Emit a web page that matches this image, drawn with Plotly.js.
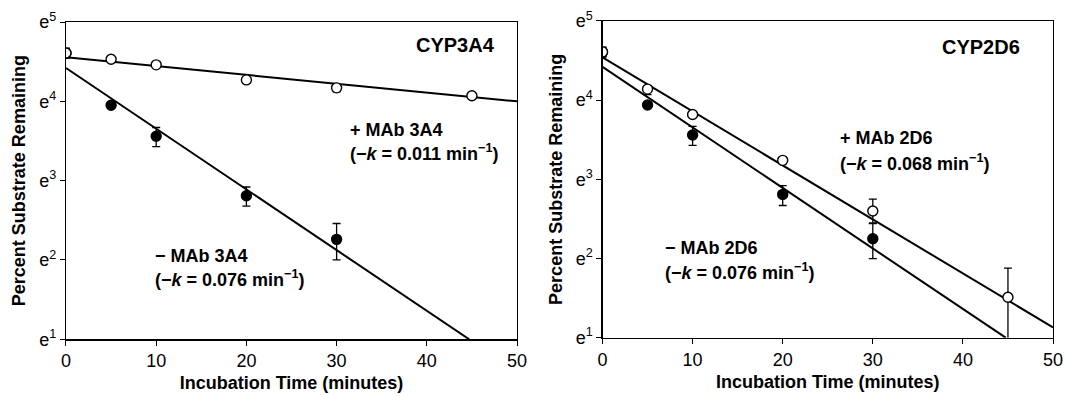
<!DOCTYPE html>
<html>
<head>
<meta charset="utf-8">
<script src="https://cdn.plot.ly/plotly-3.0.1.min.js"></script>
<style>
  html, body { margin: 0; padding: 0; background: #fff; }
  #chart { width: 1065px; height: 396px; }
</style>
</head>
<body>
<div id="chart"></div>
<script>
// ---- Data (y values are natural-log of percent substrate remaining) ----
// CYP3A4 panel
const t3A4Minus = [0, 5, 10, 20, 30];
const y3A4Minus = [4.605, 3.95, 3.56, 2.81, 2.26];
const e3A4MinusUp = [0.06, 0.03, 0.11, 0.11, 0.20];
const e3A4MinusDn = [0.06, 0.03, 0.13, 0.13, 0.26];

const t3A4Plus = [0, 5, 10, 20, 30, 45];
const y3A4Plus = [4.61, 4.53, 4.46, 4.27, 4.17, 4.07];
const e3A4PlusUp = [0.06, 0.02, 0.02, 0.02, 0.02, 0.02];
const e3A4PlusDn = [0.06, 0.02, 0.02, 0.03, 0.05, 0.02];

const fit3A4PlusX = [0, 50];
const fit3A4PlusY = [4.555, 4.0];
const fit3A4MinusX = [0, 44.7];
const fit3A4MinusY = [4.42, 1.0];

// CYP2D6 panel
const t2D6Minus = [0, 5, 10, 20, 30];
const y2D6Minus = [4.605, 3.94, 3.56, 2.81, 2.25];
const e2D6MinusUp = [0.06, 0.03, 0.11, 0.11, 0.20];
const e2D6MinusDn = [0.06, 0.03, 0.13, 0.14, 0.25];

const t2D6Plus = [0, 5, 10, 20, 30, 45];
const y2D6Plus = [4.61, 4.14, 3.82, 3.24, 2.60, 1.51];
const e2D6PlusUp = [0.06, 0.02, 0.02, 0.02, 0.15, 0.37];
const e2D6PlusDn = [0.06, 0.07, 0.02, 0.02, 0.16, 0.55];

const fit2D6PlusX = [0, 50];
const fit2D6PlusY = [4.54, 1.13];
const fit2D6MinusX = [0, 44.75];
const fit2D6MinusY = [4.42, 1.0];

// Tick labels
const yTickVals = [1, 2, 3, 4, 5];
const yTickText = ['e<sup>1</sup>', 'e<sup>2</sup>', 'e<sup>3</sup>', 'e<sup>4</sup>', 'e<sup>5</sup>'];
const xTickVals = [0, 10, 20, 30, 40, 50];

// ---- Helpers ----
const FONT = 'Liberation Sans, Arial, Helvetica, sans-serif';

function fitLine(x, y, xa, ya) {
  return { x: x, y: y, xaxis: xa, yaxis: ya, mode: 'lines', type: 'scatter',
    line: { color: '#000', width: 2 }, hoverinfo: 'skip', showlegend: false };
}
function points(x, y, up, dn, filled, xa, ya) {
  return { x: x, y: y, xaxis: xa, yaxis: ya, mode: 'markers', type: 'scatter',
    marker: { symbol: 'circle', size: 10, color: filled ? '#000' : '#fff',
      line: { color: '#000', width: 1.4 } },
    error_y: { type: 'data', symmetric: false, array: up, arrayminus: dn,
      color: '#000', thickness: 1.3, width: 4 },
    showlegend: false, cliponaxis: true };
}

const traces = [
  fitLine(fit3A4PlusX, fit3A4PlusY, 'x', 'y'),
  fitLine(fit3A4MinusX, fit3A4MinusY, 'x', 'y'),
  points(t3A4Minus, y3A4Minus, e3A4MinusUp, e3A4MinusDn, true, 'x', 'y'),
  points(t3A4Plus, y3A4Plus, e3A4PlusUp, e3A4PlusDn, false, 'x', 'y'),
  fitLine(fit2D6PlusX, fit2D6PlusY, 'x2', 'y2'),
  fitLine(fit2D6MinusX, fit2D6MinusY, 'x2', 'y2'),
  points(t2D6Minus, y2D6Minus, e2D6MinusUp, e2D6MinusDn, true, 'x2', 'y2'),
  points(t2D6Plus, y2D6Plus, e2D6PlusUp, e2D6PlusDn, false, 'x2', 'y2')
];

function xAxis(domain, anchor) {
  return { domain: domain, anchor: anchor, range: [0, 50], tickvals: xTickVals,
    ticks: 'outside', ticklen: 5, tickwidth: 1, tickcolor: '#000',
    showline: true, linecolor: '#000', linewidth: 1.2, mirror: true,
    showgrid: false, zeroline: false,
    tickfont: { family: FONT, size: 18, color: '#000' },
    title: { text: '<b>Incubation Time (minutes)</b>', standoff: 6,
      font: { family: FONT, size: 18, color: '#000' } } };
}
function yAxis(domain, anchor) {
  return { domain: domain, anchor: anchor, range: [1, 5], tickvals: yTickVals, ticktext: yTickText,
    ticks: 'outside', ticklen: 5, tickwidth: 1, tickcolor: '#000',
    showline: true, linecolor: '#000', linewidth: 1.2, mirror: true,
    showgrid: false, zeroline: false,
    tickfont: { family: FONT, size: 18, color: '#000' },
    title: { text: '<b>Percent Substrate Remaining</b>', standoff: 8,
      font: { family: FONT, size: 18, color: '#000' } } };
}

function label(text, x, y, xa, ya, anchor, size) {
  return { text: text, x: x, y: y, xref: xa, yref: ya, xanchor: anchor, yanchor: 'middle',
    showarrow: false, align: anchor, font: { family: FONT, size: size || 18, color: '#000' } };
}

const layout = {
  width: 1065, height: 396,
  margin: { l: 0, r: 0, t: 0, b: 0 },
  paper_bgcolor: '#fff', plot_bgcolor: '#fff',
  showlegend: false,
  xaxis: xAxis([0.06197, 0.48545], 'y'),
  yaxis: yAxis([0.14318, 0.94444], 'x'),
  xaxis2: xAxis([0.56573, 0.98873], 'y2'),
  yaxis2: yAxis([0.14722, 0.94697], 'x2'),
  annotations: [
    label('<b>CYP3A4</b>', 47.76, 4.716, 'x', 'y', 'right', 20),
    label('<b>+ MAb 3A4</b>', 31.3, 3.64, 'x', 'y', 'left'),
    label('<b>(−<i>k</i> = 0.011 min<sup>−1</sup>)</b>', 31.3, 3.35, 'x', 'y', 'left'),
    label('<b>− MAb 3A4</b>', 9.6, 2.05, 'x', 'y', 'left'),
    label('<b>(−<i>k</i> = 0.076 min<sup>−1</sup>)</b>', 9.6, 1.77, 'x', 'y', 'left'),
    label('<b>CYP2D6</b>', 46.6, 4.67, 'x2', 'y2', 'right', 20),
    label('<b>+ MAb 2D6</b>', 26.1, 3.525, 'x2', 'y2', 'left'),
    label('<b>(−<i>k</i> = 0.068 min<sup>−1</sup>)</b>', 26.1, 3.21, 'x2', 'y2', 'left'),
    label('<b>− MAb 2D6</b>', 6.7, 2.136, 'x2', 'y2', 'left'),
    label('<b>(−<i>k</i> = 0.076 min<sup>−1</sup>)</b>', 6.7, 1.84, 'x2', 'y2', 'left')
  ]
};

Plotly.newPlot('chart', traces, layout, { displayModeBar: false, staticPlot: true });
</script>
</body>
</html>
